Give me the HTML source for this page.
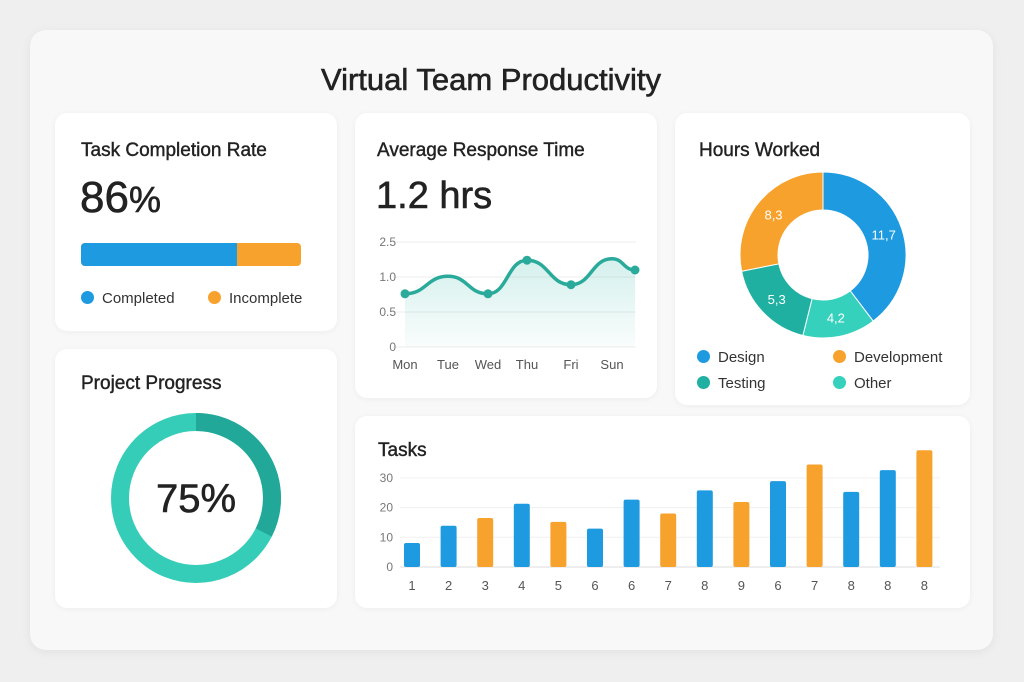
<!DOCTYPE html>
<html><head><meta charset="utf-8">
<style>
body{margin:0;width:1024px;height:682px;background:#efefef;font-family:"Liberation Sans",sans-serif;color:#222;position:relative;overflow:hidden}
.panel{position:absolute;left:30px;top:30px;width:963px;height:620px;background:#f8f8f8;border-radius:16px;box-shadow:0 2px 10px rgba(0,0,0,.06)}
.card{position:absolute;background:#fff;border-radius:12px;box-shadow:0 1px 6px rgba(0,0,0,.05)}
.h{position:absolute;font-size:19px;color:#222;-webkit-text-stroke:0.4px #222}
.dot{display:inline-block;width:13px;height:13px;border-radius:50%;vertical-align:-1px;margin-right:8px}
.leg{position:absolute;font-size:15px;color:#333}
.big{-webkit-text-stroke:0.6px #222}
svg text{font-family:"Liberation Sans",sans-serif}
</style></head><body>
<div class="panel"></div>
<div style="position:absolute;left:0;width:982px;top:62px;text-align:center;font-size:31px;color:#222;-webkit-text-stroke:0.6px #222">Virtual Team Productivity</div>

<div class="card" style="left:55px;top:113px;width:282px;height:218px">
 <div class="h" style="left:26px;top:27px">Task Completion Rate</div>
 <div class="big" style="position:absolute;left:25px;top:60px;font-size:44px">86<span style="font-size:36px">%</span></div>
 <div style="position:absolute;left:26px;top:130px;width:220px;height:23px;border-radius:4px;overflow:hidden;background:#f7a22c">
  <div style="width:156px;height:100%;background:#1e9ae0"></div>
 </div>
 <div class="leg" style="left:26px;top:177px"><span class="dot" style="background:#1e9ae0"></span>Completed</div>
 <div class="leg" style="left:153px;top:177px"><span class="dot" style="background:#f7a22c"></span>Incomplete</div>
</div>

<div class="card" style="left:355px;top:113px;width:302px;height:285px">
 <div class="h" style="left:22px;top:27px">Average Response Time</div>
 <div class="big" style="position:absolute;left:21px;top:62px;font-size:38px">1.2 hrs</div>
</div>

<div class="card" style="left:675px;top:113px;width:295px;height:292px">
 <div class="h" style="left:24px;top:27px">Hours Worked</div>
 <div class="leg" style="left:22px;top:236px"><span class="dot" style="background:#1e9ae0"></span>Design</div>
 <div class="leg" style="left:158px;top:236px"><span class="dot" style="background:#f7a22c"></span>Development</div>
 <div class="leg" style="left:22px;top:262px"><span class="dot" style="background:#20b0a2"></span>Testing</div>
 <div class="leg" style="left:158px;top:262px"><span class="dot" style="background:#36d1bd"></span>Other</div>
</div>

<div class="card" style="left:55px;top:349px;width:282px;height:259px">
 <div class="h" style="left:26px;top:24px">Project Progress</div>
</div>

<div class="card" style="left:355px;top:416px;width:615px;height:192px">
 <div class="h" style="left:23px;top:24px">Tasks</div>
</div>

<svg id="s" width="1024" height="682" style="position:absolute;left:0;top:0">
<defs><linearGradient id="fillg" x1="0" y1="0" x2="0" y2="1"><stop offset="0" stop-color="#2bb5a5" stop-opacity=".2"/><stop offset="1" stop-color="#2bb5a5" stop-opacity=".03"/></linearGradient></defs>
</svg>

<script>
const lineCats=['Mon','Tue','Wed','Thu','Fri','Sun',''];
const lineVals=[0.76,1.01,0.76,1.24,0.89,1.26,1.1];
const lineDots=[true,false,true,true,true,false,true];
const lineTickVals=[0,0.5,1,1.5];
const lineTickLabels=['0','0.5','1.0','2.5'];

const pieLabels=['Design','Other','Testing','Development'];
const pieVals=[11.7,4.2,5.3,8.3];
const pieText=['11,7','4,2','5,3','8,3'];

const progress=75;

const barCats=['1','2','3','4','5','6','6','7','8','9','6','7','8','8','8'];
const barVals=[8.1,13.9,16.5,21.3,15.2,12.9,22.7,18,25.8,21.9,28.9,34.5,25.3,32.6,39.3];
const barSeries=['b','b','o','b','o','b','b','o','b','o','b','o','b','b','o'];
const barTicks=[0,10,20,30];

const NS='http://www.w3.org/2000/svg';
const svg=document.getElementById('s');
function mk(t,a,p){const e=document.createElementNS(NS,t);for(const k in a)e.setAttribute(k,a[k]);(p||svg).appendChild(e);return e;}

// line chart
const ly0=347;
const ly=v=>ly0-v*70;
const lxs=[405,448,488,527,571,612,635];
const lx=i=>lxs[i];
lineTickVals.forEach((v,i)=>{
 const g=mk('line',{x1:393,x2:636,y1:ly(v),y2:ly(v),stroke:'#ececec','stroke-width':1});
 
 
 const t=mk('text',{x:396,y:ly(v)+4,'text-anchor':'end','font-size':12,fill:'#777'});t.textContent=lineTickLabels[i];
 
 
});
let d='M'+lx(0)+','+ly(lineVals[0]);
for(let i=1;i<lineVals.length;i++){const xa=lx(i-1),xb=lx(i),m=(xa+xb)/2;d+=` C${m},${ly(lineVals[i-1])} ${m},${ly(lineVals[i])} ${xb},${ly(lineVals[i])}`;}
const area=mk('path',{d:d+` L${lx(lineVals.length-1)},${ly0} L${lx(0)},${ly0} Z`,fill:'url(#fillg)'});


const lp=mk('path',{d:d,fill:'none',stroke:'#2aaa9a','stroke-width':3.5,'stroke-linecap':'round'});


lineVals.forEach((v,i)=>{
 if(lineDots[i]){const c=mk('circle',{cx:lx(i),cy:ly(v),r:4.5,fill:'#2aaa9a'});
 
 }
 if(lineCats[i]){const t=mk('text',{x:lx(i),y:369,'text-anchor':'middle','font-size':13,fill:'#555'});t.textContent=lineCats[i];
 
 }
});

// hours donut
const cx=823,cy=255,R=83,r=45;
const pieCols=['#1e9ae0','#36d1bd','#20b0a2','#f7a22c'];
const tot=pieVals.reduce((a,b)=>a+b,0);
let ang=0;
function pt(a,rad){return [cx+rad*Math.sin(a),cy-rad*Math.cos(a)];}
pieVals.forEach((v,i)=>{
 const a0=ang,a1=ang+v/tot*2*Math.PI;ang=a1;
 const lg=(a1-a0)>Math.PI?1:0;
 const p1=pt(a0,R),p2=pt(a1,R),p3=pt(a1,r),p4=pt(a0,r);
 const s=mk('path',{d:`M${p1} A${R},${R} 0 ${lg} 1 ${p2} L${p3} A${r},${r} 0 ${lg} 0 ${p4} Z`,fill:pieCols[i],stroke:'#fff','stroke-width':1});
 
 
 const m=pt((a0+a1)/2,(R+r)/2);
 const t=mk('text',{x:m[0],y:m[1]+5,'text-anchor':'middle','font-size':13,fill:'#fff'});t.textContent=pieText[i];
 
 
});

// progress ring
const pcx=196,pcy=498,pr=76;
const ring=mk('circle',{cx:pcx,cy:pcy,r:pr,fill:'none',stroke:'#36cdb8','stroke-width':18});


const rem=(100-progress)/100*2*Math.PI*1.3;
const q1=[pcx,pcy-pr],q2=[pcx+pr*Math.sin(rem),pcy-pr*Math.cos(rem)];
const rp=mk('path',{d:`M${q1} A${pr},${pr} 0 0 1 ${q2}`,fill:'none',stroke:'#22a898','stroke-width':18});


const pt2=mk('text',{x:pcx,y:pcy+14,'text-anchor':'middle','font-size':40,fill:'#222',stroke:'#222','stroke-width':0.6});pt2.textContent=progress+'%';



// bar chart
const by0=567,byk=2.97;
const by=v=>by0-v*byk;
const bx=i=>412+i*36.6;
barTicks.forEach(v=>{
 const g=mk('line',{x1:400,x2:940,y1:by(v),y2:by(v),stroke:v?'#f0f0f0':'#ddd','stroke-width':1});
 
 
 const t=mk('text',{x:393,y:by(v)+4,'text-anchor':'end','font-size':12,fill:'#777'});t.textContent=v;
 
 
});
barVals.forEach((v,i)=>{
 const b=mk('rect',{x:bx(i)-8,y:by(v),width:16,height:v*byk,rx:2,fill:barSeries[i]==='b'?'#1e9ae0':'#f7a22c'});
 
 
 const t=mk('text',{x:bx(i),y:590,'text-anchor':'middle','font-size':13,fill:'#555'});t.textContent=barCats[i];
 
 
});
</script>
</body></html>
